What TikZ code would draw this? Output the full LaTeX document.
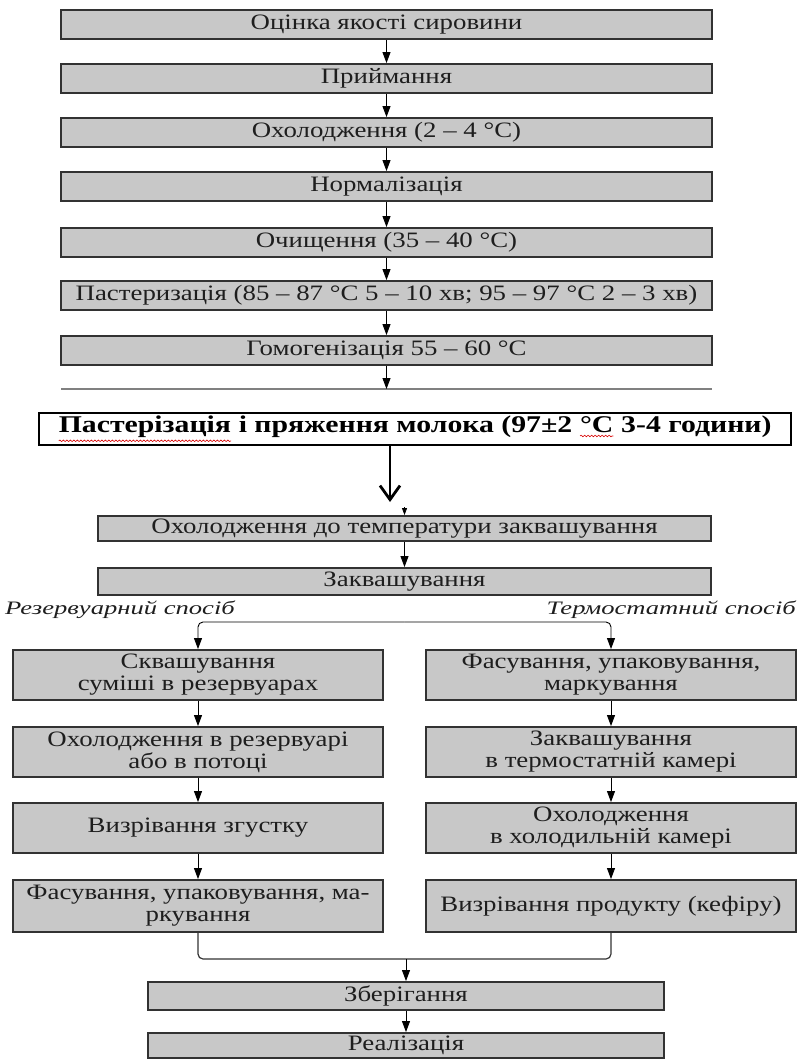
\documentclass[tikz,border=0pt]{standalone}
\usepackage{fontspec}
\setmainfont{Liberation Serif}[FakeStretch=1.22]
\newfontfamily\headfont{Liberation Serif}[FakeStretch=1.24]
\newfontfamily\labfont{Liberation Serif}[FakeStretch=1.4]
\usetikzlibrary{arrows.meta,decorations.pathmorphing,calc}
\definecolor{boxfill}{RGB}{200,200,200}
\definecolor{boxline}{RGB}{50,50,50}
\definecolor{txt}{RGB}{30,30,30}
\newcommand\wavyu[1]{\tikz[baseline=(wt.base)]{\node[inner sep=0pt,outer sep=0pt,minimum width=0pt,minimum height=0pt,draw=none,fill=none](wt){#1};\draw[red!85!black,line width=0.6pt,decorate,decoration={snake,amplitude=0.8pt,segment length=3.5pt}]([yshift=-3pt]wt.south west)--([yshift=-3pt]wt.south east);}}
\begin{document}
\begin{tikzpicture}[x=1pt,y=-1pt,
  stage/.style={draw=boxline, line width=1.9pt, fill=boxfill, inner sep=0pt, align=center, text=txt, font=\fontsize{22}{22}\selectfont},
  bigbox/.style={draw=black, line width=1.3pt, fill=white, inner sep=0pt, align=center, text=black, font=\headfont\bfseries\fontsize{24}{25}\selectfont},
  lab/.style={inner sep=0pt, text=txt, font=\labfont\itshape\fontsize{19}{20}\selectfont},
  arr/.style={draw=black, line width=0.9pt, -{Triangle[width=8pt,length=11pt]}},
  smallarr/.style={draw=black, line width=0.7pt, -{Triangle[width=5pt,length=7pt]}},
  thickarr/.style={draw=black, line width=2.8pt, -{Straight Barb[width=20pt,length=14pt]}},
  link/.style={draw=black!80, line width=1.2pt, rounded corners=5pt},
  sep/.style={draw=gray, line width=1.6pt},
]
\useasboundingbox (0,0) rectangle (798,1059);
% top chain
\node[stage, minimum width=651pt, minimum height=29pt] (b1) at (386.5,24.5) {Оцінка якості сировини};
\node[stage, minimum width=651pt, minimum height=29pt] (b2) at (386.5,78.5) {Приймання};
\node[stage, minimum width=651pt, minimum height=29pt] (b3) at (386.5,132.5) {Охолодження (2 – 4 °С)};
\node[stage, minimum width=651pt, minimum height=29pt] (b4) at (386.5,186.5) {Нормалізація};
\node[stage, minimum width=651pt, minimum height=29pt] (b5) at (386.5,242.5) {Очищення (35 – 40 °С)};
\node[stage, minimum width=651pt, minimum height=29pt] (b6) at (386.5,295.5) {Пастеризація (85 – 87 °С 5 – 10 хв; 95 – 97 °С 2 – 3 хв)};
\node[stage, minimum width=651pt, minimum height=29pt] (b7) at (386.5,350.5) {Гомогенізація 55 – 60 °С};
\foreach \a/\b in {b1/b2,b2/b3,b3/b4,b4/b5,b5/b6,b6/b7} \draw[arr] (\a) -- (\b);
\coordinate (lnL) at (61,389);
\coordinate (lnR) at (712,389);
\coordinate (lnC) at (386.5,389);
\draw[sep] (lnL) -- (lnR);
\draw[arr] (b7) -- (lnC);
% white box
\node[bigbox, minimum width=752pt, minimum height=32pt] (pm) at (415,429) {\wavyu{Пастерізація} і пряження молока (97±2 \wavyu{°С} 3-4 години)};
\coordinate (thk) at (390,502);
\draw[thickarr] (pm.south -| thk) -- (thk);
% middle
\node[stage, minimum width=613pt, minimum height=25pt] (m1) at (404.5,528.5) {Охолодження до температури заквашування};
\node[stage, minimum width=613pt, minimum height=27pt] (m2) at (404.5,581.5) {Заквашування};
\coordinate (tk) at (404.5,507);
\draw[smallarr] (tk) -- (m1.north);
\draw[arr] (m1) -- (m2);
\node[lab, anchor=west] (lres) at (5,610) {Резервуарний спосіб};
\node[lab, anchor=east] (lterm) at (796,610) {Термостатний спосіб};
% columns
\node[stage, minimum width=370pt, minimum height=50pt] (l1) at (198,675) {Сквашування\\суміші в резервуарах};
\node[stage, minimum width=370pt, minimum height=50pt] (l2) at (198,752) {Охолодження в резервуарі\\або в потоці};
\node[stage, minimum width=370pt, minimum height=50pt] (l3) at (198,828) {Визрівання згустку};
\node[stage, minimum width=370pt, minimum height=52pt] (l4) at (198,906) {Фасування, упаковування, ма-\\ркування};
\node[stage, minimum width=370pt, minimum height=50pt] (r1) at (611,675) {Фасування, упаковування,\\маркування};
\node[stage, minimum width=370pt, minimum height=50pt] (r2) at (611,752) {Заквашування\\в термостатній камері};
\node[stage, minimum width=370pt, minimum height=50pt] (r3) at (611,828) {Охолодження\\в холодильній камері};
\node[stage, minimum width=370pt, minimum height=52pt] (r4) at (611,906) {Визрівання продукту (кефіру)};
\coordinate (brM) at (404.5,622);
\draw[arr, rounded corners=5pt] (brM) -| (l1.north);
\draw[arr, rounded corners=5pt] (brM) -| (r1.north);
\foreach \a/\b in {l1/l2,l2/l3,l3/l4,r1/r2,r2/r3,r3/r4} \draw[arr] (\a) -- (\b);
% bottom
\node[stage, minimum width=516pt, minimum height=28pt] (s1) at (406,996) {Зберігання};
\node[stage, minimum width=516pt, minimum height=25pt] (s2) at (406,1045.5) {Реалізація};
\coordinate (mg) at (406,959);
\draw[link] (l4.south) |- (mg) -| (r4.south);
\draw[arr] (mg) -- (s1);
\draw[arr] (s1) -- (s2);
\end{tikzpicture}
\end{document}
